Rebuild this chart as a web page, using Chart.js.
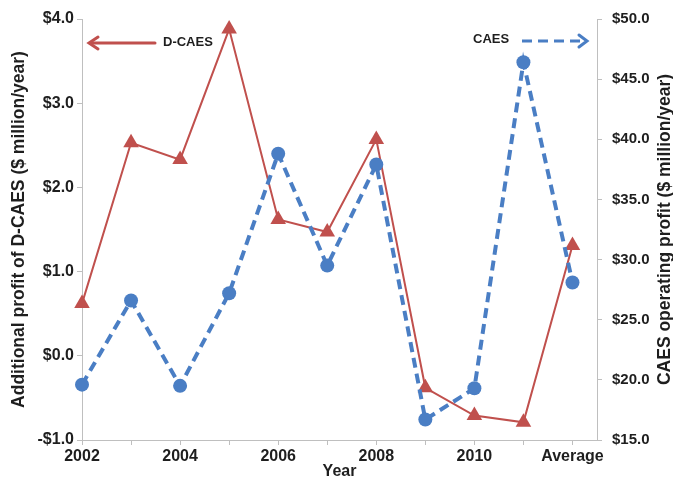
<!DOCTYPE html>
<html>
<head>
<meta charset="utf-8">
<script src="https://cdn.jsdelivr.net/npm/chart.js@4/dist/chart.umd.min.js"></script>
<style>
  html, body { margin: 0; padding: 0; background: #ffffff; }
  #wrap { width: 673px; height: 481px; }
</style>
</head>
<body>
<div id="wrap"><canvas id="c" width="673" height="481"></canvas></div>
<script>
// Years on the x axis (last entry is the multi-year average)
const years = ['2002', '2003', '2004', '2005', '2006', '2007', '2008', '2009', '2010', '2011', 'Average'];
// Only every other year is labelled
const xTickLabels = ['2002', '', '2004', '', '2006', '', '2008', '', '2010', '', 'Average'];
// Additional profit of D-CAES, $ million/year (left axis)
const dcaesProfit = [0.62, 2.53, 2.33, 3.88, 1.62, 1.47, 2.57, -0.38, -0.71, -0.79, 1.31];
// CAES operating profit, $ million/year (right axis)
const caesProfit = [19.6, 26.6, 19.5, 27.2, 38.8, 29.5, 37.9, 16.7, 19.3, 46.4, 28.1];

const RED = '#C0504D';
const BLUE = '#4A7EC4';
const AXIS = '#BFBFBF';
const TEXT = '#1E1E1E';
const FONT = "'Liberation Sans', Arial, sans-serif";

Chart.defaults.font.family = FONT;
Chart.defaults.color = TEXT;

const money = v => (v < 0 ? '-$' : '$') + Math.abs(v).toFixed(1);

// Arrow call-outs and the right-hand axis title (reads bottom to top)
const extras = {
  id: 'extras',
  afterDraw(chart) {
    const ctx = chart.ctx;
    const area = chart.chartArea;
    ctx.save();

    // D-CAES label with arrow pointing to the left axis
    ctx.font = 'bold 13px ' + FONT;
    ctx.fillStyle = TEXT;
    ctx.textBaseline = 'middle';
    ctx.textAlign = 'left';
    ctx.fillText('D-CAES', 163, 42);
    ctx.strokeStyle = RED;
    ctx.lineWidth = 3;
    ctx.lineCap = 'round';
    ctx.beginPath();
    ctx.moveTo(155, 43);
    ctx.lineTo(90, 43);
    ctx.stroke();
    ctx.beginPath();
    ctx.moveTo(98, 37);
    ctx.lineTo(89, 43);
    ctx.lineTo(98, 49);
    ctx.stroke();

    // CAES label with dashed arrow pointing to the right axis
    ctx.fillText('CAES', 473, 39);
    ctx.strokeStyle = BLUE;
    ctx.lineCap = 'butt';
    ctx.setLineDash([10, 6]);
    ctx.beginPath();
    ctx.moveTo(522, 41);
    ctx.lineTo(583, 41);
    ctx.stroke();
    ctx.setLineDash([]);
    ctx.lineCap = 'round';
    ctx.beginPath();
    ctx.moveTo(579, 35);
    ctx.lineTo(587, 41);
    ctx.lineTo(579, 47);
    ctx.stroke();

    // Right axis title
    ctx.translate(665, (area.top + area.bottom) / 2);
    ctx.rotate(-Math.PI / 2);
    ctx.textAlign = 'center';
    ctx.font = 'bold 17.5px ' + FONT;
    ctx.fillText('CAES operating profit ($ million/year)', 0, 0);
    ctx.restore();
  }
};

new Chart(document.getElementById('c'), {
  type: 'line',
  data: {
    datasets: [
      {
        label: 'CAES',
        data: caesProfit.map((v, i) => ({ x: i, y: v })),
        yAxisID: 'yRight',
        borderColor: BLUE,
        backgroundColor: BLUE,
        borderWidth: 4,
        borderDash: [10, 6],
        pointStyle: 'circle',
        pointRadius: 7,
        pointBorderWidth: 0,
        tension: 0,
        clip: false
      },
      {
        label: 'D-CAES',
        data: dcaesProfit.map((v, i) => ({ x: i, y: v })),
        yAxisID: 'yLeft',
        borderColor: RED,
        backgroundColor: RED,
        borderWidth: 2,
        pointStyle: 'triangle',
        pointRadius: 9,
        pointBorderWidth: 0,
        tension: 0,
        clip: false
      }
    ]
  },
  options: {
    responsive: false,
    animation: false,
    devicePixelRatio: 1,
    layout: { padding: { top: 16, left: 0, right: 0, bottom: 0 } },
    plugins: {
      legend: { display: false },
      tooltip: { enabled: false }
    },
    scales: {
      x: {
        type: 'linear',
        min: 0,
        max: 10.5,
        afterBuildTicks: s => { s.ticks = years.map((_, i) => ({ value: i })); },
        afterFit: s => { s.height = 41; },
        grid: { drawOnChartArea: false, color: AXIS, tickLength: 5 },
        border: { color: AXIS, width: 1 },
        ticks: {
          autoSkip: false,
          maxRotation: 0,
          padding: 2,
          font: { size: 16, weight: 'bold' },
          callback: v => xTickLabels[Math.round(v)]
        },
        title: {
          display: true,
          text: 'Year',
          font: { size: 16, weight: 'bold' },
          padding: { top: 0, bottom: 0 }
        }
      },
      yLeft: {
        type: 'linear',
        position: 'left',
        min: -1,
        max: 4,
        afterFit: s => { s.width = 82; },
        grid: { drawOnChartArea: false, color: AXIS, tickLength: 5 },
        border: { color: AXIS, width: 1 },
        ticks: {
          stepSize: 1,
          padding: 3,
          font: { size: 16, weight: 'bold' },
          callback: v => money(v)
        },
        title: {
          display: true,
          text: 'Additional profit of D-CAES ($ million/year)',
          font: { size: 17.5, weight: 'bold' },
          padding: { top: 9, bottom: 0 }
        }
      },
      yRight: {
        type: 'linear',
        position: 'right',
        min: 15,
        max: 50,
        afterFit: s => { s.width = 76; },
        grid: { drawOnChartArea: false, color: AXIS, tickLength: 5 },
        border: { color: AXIS, width: 1 },
        ticks: {
          stepSize: 5,
          padding: 10,
          font: { size: 15, weight: 'bold' },
          callback: v => money(v)
        }
      }
    }
  },
  plugins: [extras]
});
</script>
</body>
</html>
